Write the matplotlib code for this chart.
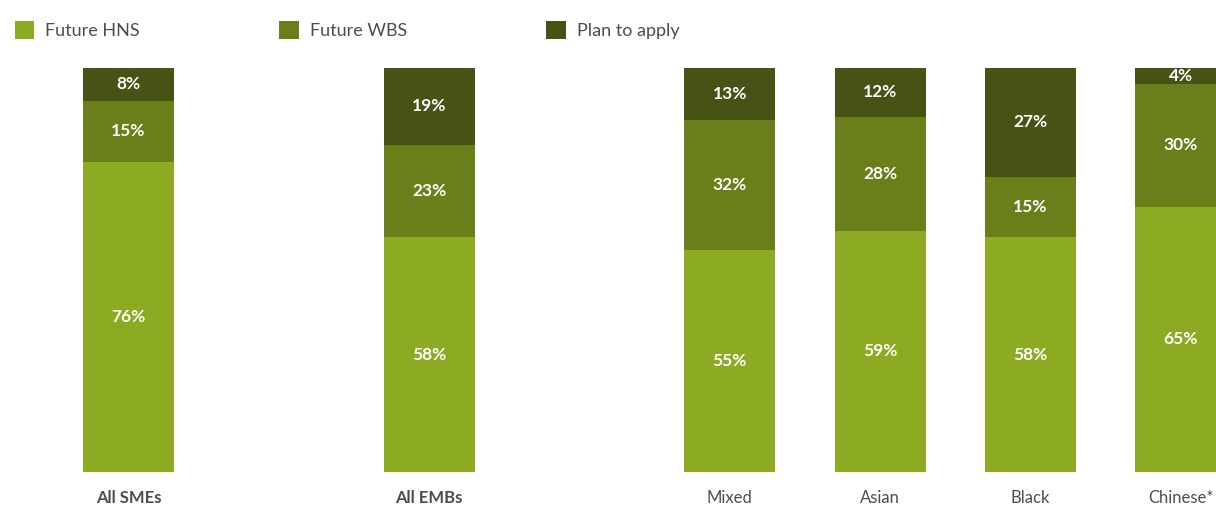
import matplotlib.pyplot as plt
import numpy as np

plt.rcParams['font.family'] = ['Lato', 'DejaVu Sans']

categories = ["All SMEs", "All EMBs", "Mixed", "Asian", "Black", "Chinese*"]
slots = [0, 2, 4, 5, 6, 7]
bold_labels = ["All SMEs", "All EMBs"]

future_hns = [76, 58, 55, 59, 58, 65]
future_wbs = [15, 23, 32, 28, 15, 30]
plan_to_apply = [8, 19, 13, 12, 27, 4]

series_names = ["Future HNS", "Future WBS", "Plan to apply"]
colors = ["#8dab22", "#6a7e1a", "#465314"]

values = np.array([future_hns, future_wbs, plan_to_apply], dtype=float)
# each column is scaled so the stack fills the full height
heights = values / values.sum(axis=0) * 100

fig = plt.figure(figsize=(12.16, 5.05), dpi=100)
ax = fig.add_axes([0, 0.0663, 1, 0.799])

bottom = np.zeros(len(categories))
handles = []
for name, col, h, raw in zip(series_names, colors, heights, values):
    bars = ax.bar(slots, h, width=0.605, bottom=bottom, color=col, label=name)
    handles.append(bars)
    for x, b, hh, v in zip(slots, bottom, h, raw):
        ax.text(x, b + hh / 2, f"{v:.0f}%", ha="center", va="center",
                color="white", fontsize=12.5, fontweight="bold")
    bottom += h

ax.set_xlim(-0.855, 7.234)
ax.set_ylim(0, 100)
ax.set_xticks(slots)
ax.set_xticklabels(categories, fontsize=12, color="#4d4d4d")
for lbl in ax.get_xticklabels():
    if lbl.get_text() in bold_labels:
        lbl.set_fontweight("bold")
ax.tick_params(axis="x", length=0, pad=13)
ax.set_yticks([])
for s in ax.spines.values():
    s.set_visible(False)

fig.legend(handles=handles, loc="upper left", bbox_to_anchor=(0.006, 0.972),
           ncol=3, frameon=False, fontsize=13, labelcolor="#4d4d4d",
           handlelength=1.1, handleheight=1.1, handletextpad=0.6,
           columnspacing=7.7, borderaxespad=0)

fig.savefig("out.png", dpi=100)
